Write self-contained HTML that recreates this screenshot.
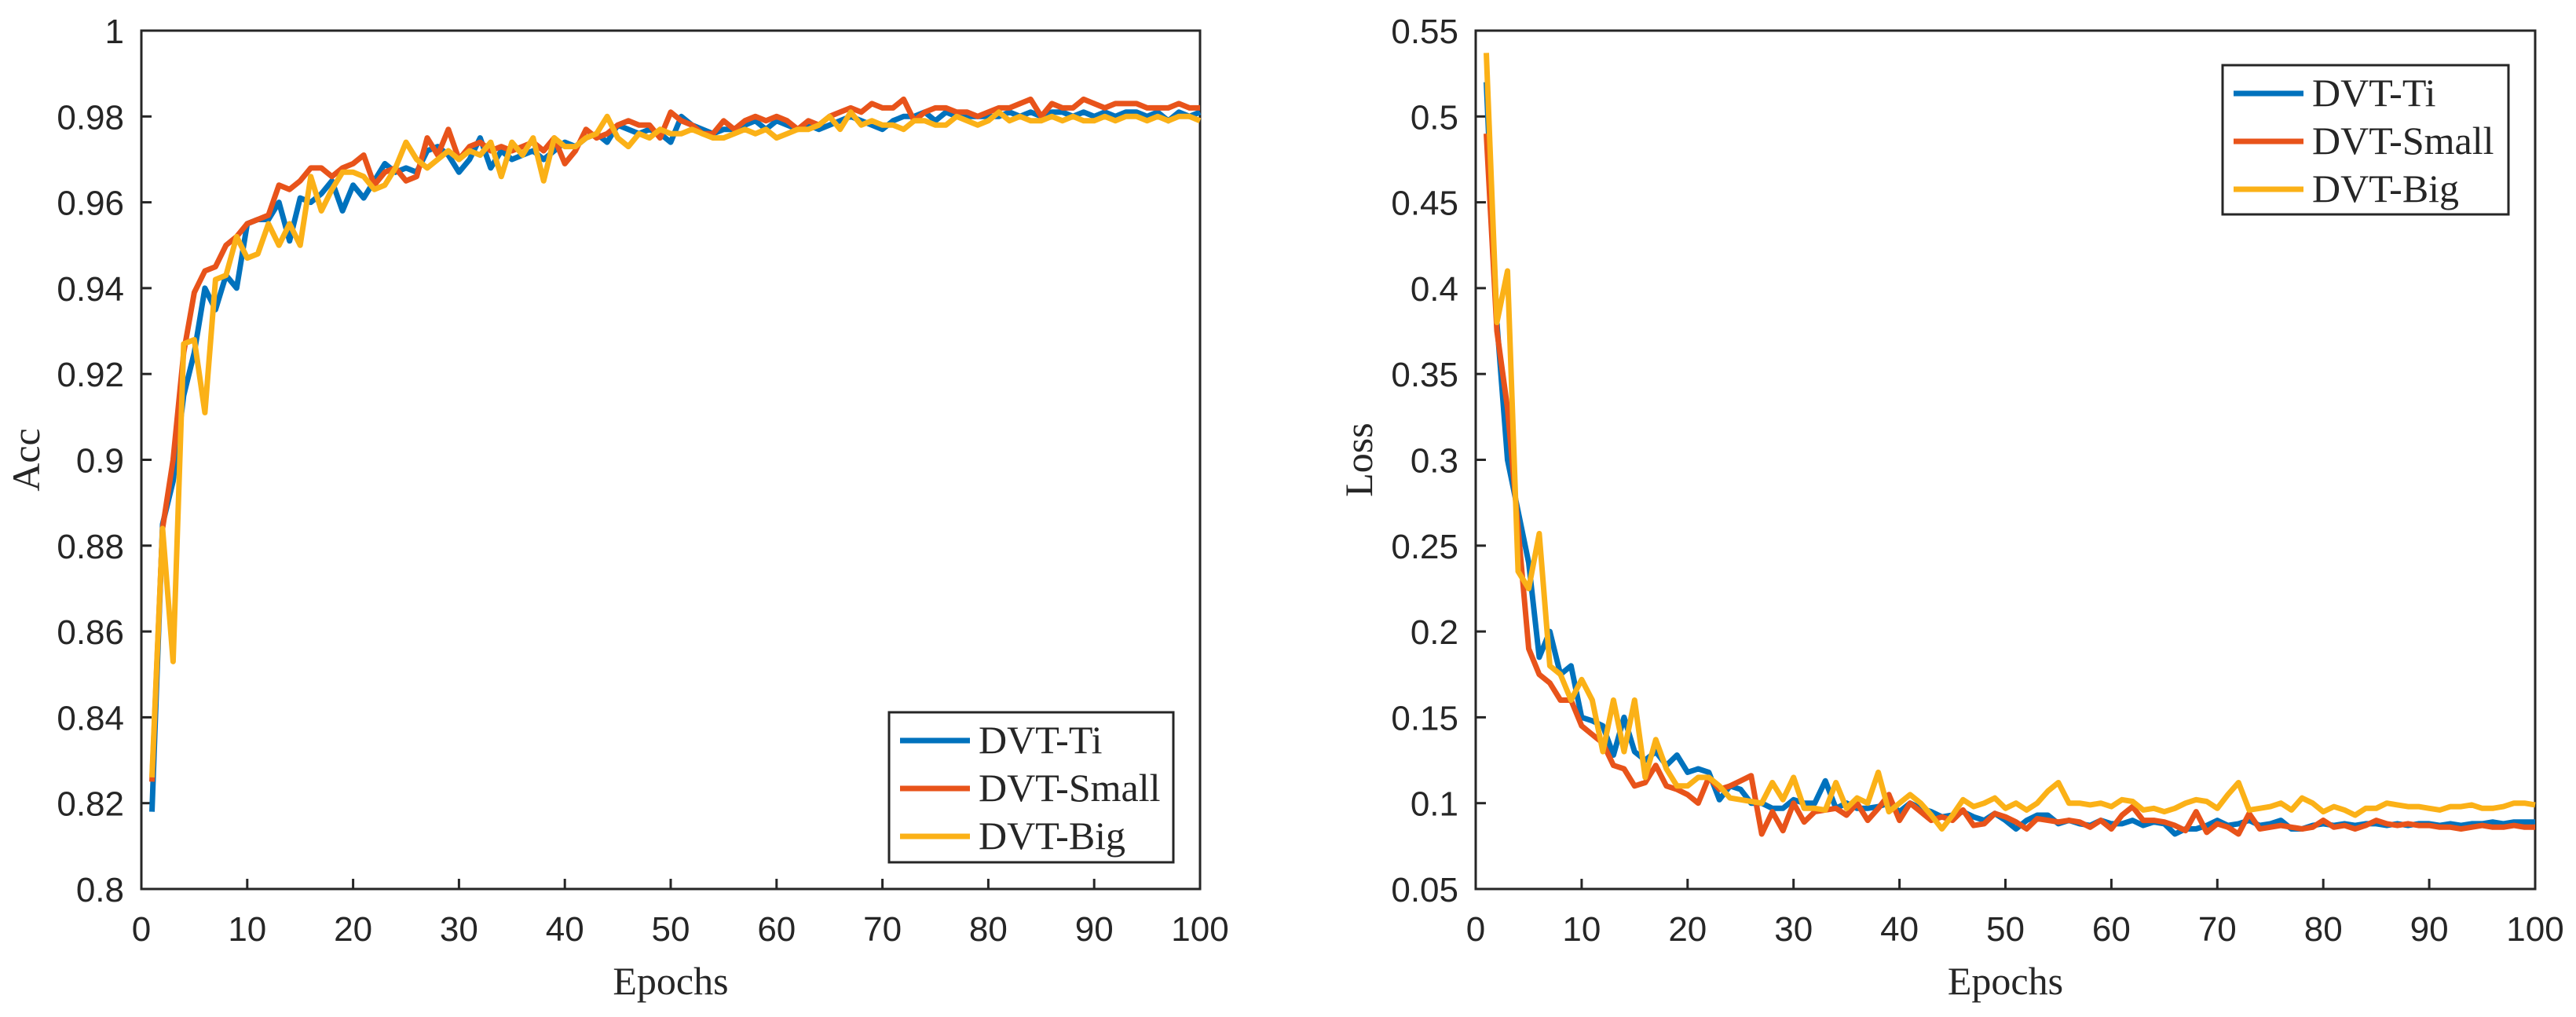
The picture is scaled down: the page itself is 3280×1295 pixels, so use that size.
<!DOCTYPE html>
<html><head><meta charset="utf-8"><style>
html,body{margin:0;padding:0;background:#fff;}
svg{display:block;}
.tick{font-family:"Liberation Sans",Arial,sans-serif;font-size:44px;fill:#262626;}
.lab{font-family:"Liberation Serif",serif;font-size:50px;fill:#262626;}
</style></head><body>
<svg id="chart" width="3280" height="1295" viewBox="0 0 3280 1295" xmlns="http://www.w3.org/2000/svg"></svg>
<script>
const epochs = Array.from({length:100},(_, i)=>i+1);
const seriesNames = ["DVT-Ti","DVT-Small","DVT-Big"];
const accTi = [0.818,0.885,0.895,0.915,0.925,0.94,0.935,0.943,0.94,0.955,0.956,0.956,0.96,0.951,0.961,0.96,0.962,0.965,0.958,0.964,0.961,0.965,0.969,0.967,0.968,0.967,0.972,0.973,0.971,0.967,0.97,0.975,0.968,0.972,0.97,0.971,0.972,0.97,0.972,0.974,0.973,0.975,0.976,0.974,0.978,0.977,0.976,0.977,0.976,0.974,0.98,0.978,0.977,0.976,0.977,0.977,0.978,0.979,0.977,0.979,0.978,0.977,0.978,0.977,0.978,0.979,0.98,0.979,0.978,0.977,0.979,0.98,0.98,0.981,0.979,0.981,0.98,0.98,0.98,0.98,0.98,0.981,0.98,0.981,0.98,0.981,0.981,0.98,0.981,0.98,0.981,0.98,0.981,0.981,0.98,0.981,0.979,0.981,0.98,0.981];
const accSmall = [0.825,0.884,0.9,0.925,0.939,0.944,0.945,0.95,0.952,0.955,0.956,0.957,0.964,0.963,0.965,0.968,0.968,0.966,0.968,0.969,0.971,0.964,0.967,0.968,0.965,0.966,0.975,0.971,0.977,0.97,0.973,0.974,0.972,0.973,0.972,0.973,0.974,0.972,0.975,0.969,0.972,0.977,0.975,0.976,0.978,0.979,0.978,0.978,0.975,0.981,0.979,0.978,0.976,0.976,0.979,0.977,0.979,0.98,0.979,0.98,0.979,0.977,0.979,0.978,0.98,0.981,0.982,0.981,0.983,0.982,0.982,0.984,0.979,0.981,0.982,0.982,0.981,0.981,0.98,0.981,0.982,0.982,0.983,0.984,0.98,0.983,0.982,0.982,0.984,0.983,0.982,0.983,0.983,0.983,0.982,0.982,0.982,0.983,0.982,0.982];
const accBig = [0.826,0.884,0.853,0.927,0.928,0.911,0.942,0.943,0.952,0.947,0.948,0.955,0.95,0.955,0.95,0.966,0.958,0.963,0.967,0.967,0.966,0.963,0.964,0.968,0.974,0.97,0.968,0.97,0.972,0.97,0.972,0.971,0.974,0.966,0.974,0.971,0.975,0.965,0.975,0.973,0.973,0.975,0.976,0.98,0.975,0.973,0.976,0.975,0.977,0.976,0.976,0.977,0.976,0.975,0.975,0.976,0.977,0.976,0.977,0.975,0.976,0.977,0.977,0.978,0.98,0.977,0.981,0.978,0.979,0.978,0.978,0.977,0.979,0.979,0.978,0.978,0.98,0.979,0.978,0.979,0.981,0.979,0.98,0.979,0.979,0.98,0.979,0.98,0.979,0.979,0.98,0.979,0.98,0.98,0.979,0.98,0.979,0.98,0.98,0.979];
const lossTi = [0.52,0.38,0.3,0.27,0.24,0.185,0.2,0.175,0.18,0.15,0.148,0.145,0.128,0.15,0.13,0.125,0.13,0.122,0.128,0.118,0.12,0.118,0.102,0.11,0.108,0.1,0.1,0.097,0.097,0.102,0.1,0.1,0.113,0.097,0.1,0.097,0.097,0.098,0.1,0.095,0.1,0.097,0.095,0.092,0.093,0.095,0.092,0.09,0.094,0.09,0.085,0.09,0.093,0.093,0.088,0.09,0.088,0.087,0.09,0.088,0.088,0.09,0.087,0.089,0.088,0.082,0.085,0.085,0.087,0.09,0.087,0.088,0.09,0.087,0.088,0.09,0.085,0.085,0.087,0.088,0.087,0.088,0.087,0.088,0.088,0.087,0.088,0.087,0.088,0.088,0.087,0.088,0.087,0.088,0.088,0.089,0.088,0.089,0.089,0.089];
const lossSmall = [0.49,0.375,0.33,0.26,0.19,0.175,0.17,0.16,0.16,0.145,0.14,0.135,0.122,0.12,0.11,0.112,0.122,0.11,0.108,0.105,0.1,0.115,0.108,0.11,0.113,0.116,0.082,0.095,0.084,0.1,0.089,0.095,0.096,0.097,0.093,0.1,0.09,0.097,0.105,0.09,0.1,0.095,0.09,0.092,0.09,0.096,0.087,0.088,0.094,0.092,0.089,0.085,0.091,0.09,0.089,0.09,0.089,0.086,0.09,0.085,0.093,0.098,0.09,0.09,0.089,0.087,0.084,0.095,0.083,0.088,0.086,0.082,0.094,0.085,0.086,0.087,0.086,0.085,0.086,0.09,0.086,0.087,0.085,0.087,0.09,0.088,0.087,0.088,0.087,0.087,0.086,0.086,0.085,0.086,0.087,0.086,0.086,0.087,0.086,0.086];
const lossBig = [0.537,0.38,0.41,0.235,0.225,0.257,0.18,0.175,0.16,0.172,0.16,0.13,0.16,0.13,0.16,0.115,0.137,0.12,0.11,0.11,0.115,0.115,0.11,0.103,0.102,0.101,0.1,0.112,0.102,0.115,0.097,0.097,0.096,0.112,0.097,0.103,0.1,0.118,0.095,0.1,0.105,0.1,0.093,0.085,0.093,0.102,0.098,0.1,0.103,0.097,0.1,0.096,0.1,0.107,0.112,0.1,0.1,0.099,0.1,0.098,0.102,0.101,0.096,0.097,0.095,0.097,0.1,0.102,0.101,0.097,0.105,0.112,0.096,0.097,0.098,0.1,0.096,0.103,0.1,0.095,0.098,0.096,0.093,0.097,0.097,0.1,0.099,0.098,0.098,0.097,0.096,0.098,0.098,0.099,0.097,0.097,0.098,0.1,0.1,0.099];
const xTicks = [0,10,20,30,40,50,60,70,80,90,100];
const accTicks = [0.8,0.82,0.84,0.86,0.88,0.9,0.92,0.94,0.96,0.98,1];
const accTickLabels = ["0.8","0.82","0.84","0.86","0.88","0.9","0.92","0.94","0.96","0.98","1"];
const lossTicks = [0.05,0.1,0.15,0.2,0.25,0.3,0.35,0.4,0.45,0.5,0.55];
const lossTickLabels = ["0.05","0.1","0.15","0.2","0.25","0.3","0.35","0.4","0.45","0.5","0.55"];
const colors = ["#0072BD","#E8531A","#FBB117"];

const NS="http://www.w3.org/2000/svg";
const svg=document.getElementById('chart');
function mk(tag,attrs,parent){const e=document.createElementNS(NS,tag);for(const k in attrs)e.setAttribute(k,attrs[k]);(parent||svg).appendChild(e);return e;}

function panel(cfg){
  const g=mk('g',{});
  
  
  const {L,R,T,B,ymin,ymax}=cfg;
  const sx=v=>L+(v-0)/(100-0)*(R-L);
  const sy=v=>B-(v-ymin)/(ymax-ymin)*(B-T);
  const frame=mk('rect',{x:L,y:T,width:R-L,height:B-T,fill:'none',stroke:'#262626','stroke-width':3},g);
  
  
  xTicks.forEach(t=>{
    const x=sx(t);
    const tk=mk('line',{x1:x,x2:x,y1:B,y2:B-13,stroke:'#262626','stroke-width':3},g);
    
    
    const tl=mk('text',{x:x,y:B+66,'text-anchor':'middle',class:'tick'},g);
    tl.textContent=String(t);
    
    
  });
  cfg.ticks.forEach((t,i)=>{
    const y=sy(t);
    const tk=mk('line',{x1:L,x2:L+13,y1:y,y2:y,stroke:'#262626','stroke-width':3},g);
    
    
    const tl=mk('text',{x:L-22,y:y+16,'text-anchor':'end',class:'tick'},g);
    tl.textContent=cfg.tickLabels[i];
    
    
  });
  cfg.series.forEach((s,si)=>{
    const d=s.map((v,i)=>(i?'L':'M')+sx(epochs[i]).toFixed(1)+','+sy(v).toFixed(1)).join(' ');
    const p=mk('path',{d:d,fill:'none',stroke:colors[si],'stroke-width':7,'stroke-linejoin':'round'},g);
    
    
  });
  const xl=mk('text',{x:(L+R)/2,y:B+134,'text-anchor':'middle',class:'lab'},g);
  xl.textContent='Epochs';
  
  
  const yl=mk('text',{x:cfg.ylx,y:(T+B)/2,'text-anchor':'middle',class:'lab',transform:'rotate(-90 '+cfg.ylx+' '+(T+B)/2+')'},g);
  yl.textContent=cfg.ylabel;
  
  
  const lg=mk('g',{},g);
  
  
  const box=mk('rect',{x:cfg.lx,y:cfg.ly,width:cfg.lw,height:cfg.lh,fill:'#fff',stroke:'#262626','stroke-width':3},lg);
  
  
  seriesNames.forEach((n,i)=>{
    const y=cfg.ly+36+i*61;
    const ln=mk('line',{x1:cfg.lx+14,x2:cfg.lx+103,y1:y,y2:y,stroke:colors[i],'stroke-width':7},lg);
    
    
    const t=mk('text',{x:cfg.lx+114,y:y+16,class:'lab'},lg);
    t.textContent=n;
    
    
  });
}
panel({name:'accuracy-chart',L:180,R:1528,T:39,B:1132,ymin:0.8,ymax:1,ticks:accTicks,tickLabels:accTickLabels,series:[accTi,accSmall,accBig],ylabel:'Acc',ylx:50,lx:1132,ly:907,lw:362,lh:191});
panel({name:'loss-chart',L:1879,R:3228,T:39,B:1132,ymin:0.05,ymax:0.55,ticks:lossTicks,tickLabels:lossTickLabels,series:[lossTi,lossSmall,lossBig],ylabel:'Loss',ylx:1747,lx:2830,ly:83,lw:364,lh:190});
</script>
</body></html>
